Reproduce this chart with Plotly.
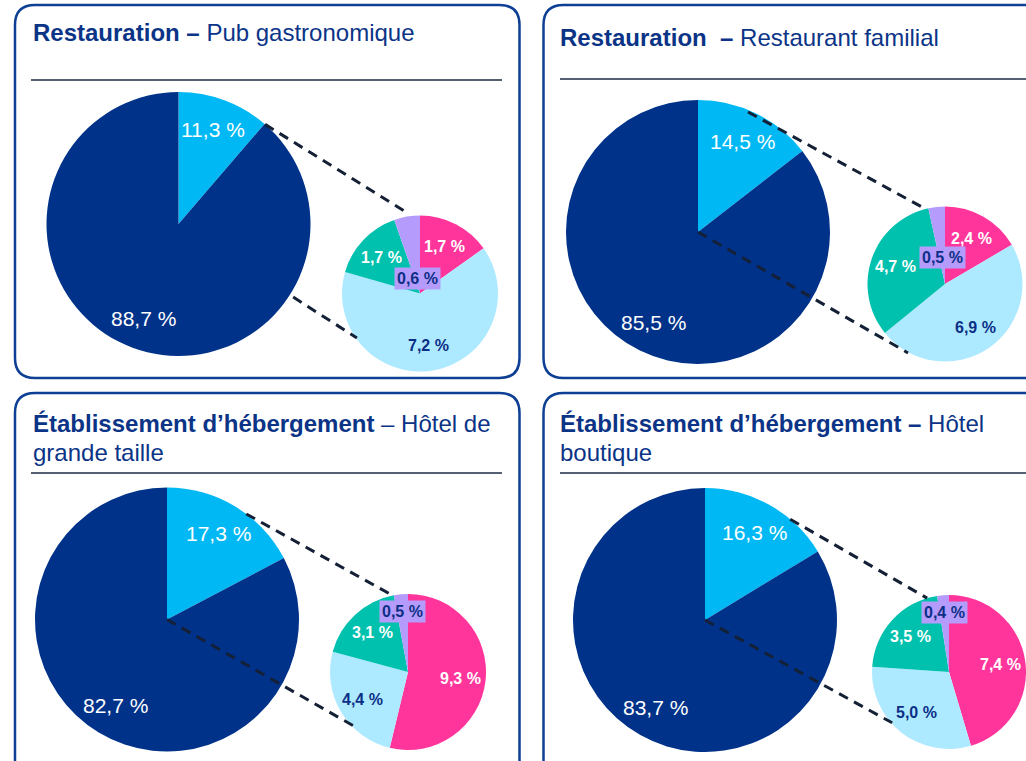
import math

import plotly.graph_objects as go

W, H = 1026, 761

# titles: bold part, regular part, optional second line
TITLES_BOLD = [
    "Restauration –",
    "Restauration\u00a0 –",
    "Établissement d’hébergement",
    "Établissement d’hébergement –",
]
TITLES_REST = [
    " Pub gastronomique",
    " Restaurant familial",
    " – Hôtel de",
    " Hôtel",
]
TITLES_LINE2 = ["", "", "grande taille", "boutique"]

# main pies: highlighted share vs the rest
HIGHLIGHT = [11.3, 14.5, 17.3, 16.3]
OTHER = [88.7, 85.5, 82.7, 83.7]

# breakdown of the highlighted share (small pies, clockwise from 12 o'clock)
DETAIL_PINK = [1.7, 2.4, 9.3, 7.4]
DETAIL_LIGHT = [7.2, 6.9, 4.4, 5.0]
DETAIL_TEAL = [1.7, 4.7, 3.1, 3.5]
DETAIL_LAVENDER = [0.6, 0.5, 0.5, 0.4]

DARK_BLUE = "#003289"
LIGHT_BLUE = "#00b9f4"
PINK = "#ff359b"
PALE = "#aeeaff"
TEAL = "#00c1ad"
LAVENDER = "#b59bfc"
NAVY_TEXT = "#0c2f86"
TITLE_BLUE = "#0b3487"
BORDER = "#0d3f94"
FONT = "Liberation Sans, Arial, sans-serif"

# panel geometry in pixels
PANELS = [
    dict(box=(15, 5, 519.5, 378), title=(31, 33), rule=(31, 502, 80),
         big=(178.5, 224, 132), small=(420, 293.5, 78), lav_r=0.2,
         upper=((41, 1.0), (-8.5, 1.04)), lower=((122.5, 1.03), (234.8, 0.99))),
    dict(box=(543.5, 5, 1045, 378), title=(558, 37), rule=(560, 1030, 79),
         big=(698, 232, 132), small=(945, 284, 77.5), lav_r=0.35,
         upper=((22.6, 0.985), (-16.8, 1.04)), lower=((0, 0.0), (208.2, 1.01))),
    dict(box=(15, 393, 519.5, 790), title=(31, 424), rule=(31, 502, 473),
         big=(167, 619.5, 132), small=(408, 672, 78), lav_r=0.78,
         upper=((36.9, 1.0), (-12, 1.01)), lower=((0, 0.0), (222.5, 0.97))),
    dict(box=(543.5, 393, 1045, 790), title=(558, 424), rule=(560, 1030, 473),
         big=(705, 620, 132), small=(949, 672, 77), lav_r=0.78,
         upper=((40.2, 1.0), (-16.5, 1.0)), lower=((0, 0.0), (228.2, 0.99))),
]
TITLE_LINE_GAP = 28


def px(x):
    return x / W


def py(y):
    return 1 - y / H


def polar(center, ang, ratio):
    cx, cy, r = center
    a = math.radians(ang)
    return cx + ratio * r * math.sin(a), cy - ratio * r * math.cos(a)


def fmt(v):
    return f"{v:.1f}".replace(".", ",") + " %"


def mid_angles(values):
    total = sum(values)
    out, acc = [], 0.0
    for v in values:
        out.append((acc + v / 2) / total * 360)
        acc += v
    return out


def domain(center):
    cx, cy, r = center
    clip = lambda v: min(max(v, 0.0), 1.0)
    return dict(x=[clip(px(cx - r)), clip(px(cx + r))], y=[clip(py(cy + r)), clip(py(cy - r))])


def rounded_box(x0, y0, x1, y1, rad=20):
    pts = [
        f"M {px(x0 + rad)} {py(y0)}",
        f"L {px(x1 - rad)} {py(y0)}",
        f"Q {px(x1)} {py(y0)} {px(x1)} {py(y0 + rad)}",
        f"L {px(x1)} {py(y1 - rad)}",
        f"Q {px(x1)} {py(y1)} {px(x1 - rad)} {py(y1)}",
        f"L {px(x0 + rad)} {py(y1)}",
        f"Q {px(x0)} {py(y1)} {px(x0)} {py(y1 - rad)}",
        f"L {px(x0)} {py(y0 + rad)}",
        f"Q {px(x0)} {py(y0)} {px(x0 + rad)} {py(y0)}",
        "Z",
    ]
    return " ".join(pts)


def label(x, y, text, size, color, **kw):
    ann = dict(xref="paper", yref="paper", x=px(x), y=py(y), xanchor="center", yanchor="middle",
               showarrow=False, text=text, font=dict(family=FONT, size=size, color=color))
    ann.update(kw)
    return ann


fig = go.Figure()
shapes, annotations = [], []

for i, p in enumerate(PANELS):
    main_vals = [HIGHLIGHT[i], OTHER[i]]
    detail_vals = [DETAIL_PINK[i], DETAIL_LIGHT[i], DETAIL_TEAL[i], DETAIL_LAVENDER[i]]

    fig.add_trace(go.Pie(
        values=main_vals, sort=False, direction="clockwise", rotation=0,
        marker=dict(colors=[LIGHT_BLUE, DARK_BLUE], line=dict(width=0)),
        textinfo="none", hoverinfo="skip", showlegend=False, domain=domain(p["big"]),
    ))
    fig.add_trace(go.Pie(
        values=detail_vals, sort=False, direction="clockwise", rotation=0,
        marker=dict(colors=[PINK, PALE, TEAL, LAVENDER], line=dict(width=0)),
        textinfo="none", hoverinfo="skip", showlegend=False, domain=domain(p["small"]),
    ))

    # panel frame, title rule
    shapes.append(dict(type="path", xref="paper", yref="paper", path=rounded_box(*p["box"]),
                       line=dict(color=BORDER, width=2.5)))
    x0, x1, yr = p["rule"]
    shapes.append(dict(type="line", xref="paper", yref="paper", x0=px(x0), x1=px(x1),
                       y0=py(yr), y1=py(yr), line=dict(color="#1c2b45", width=1.5)))

    # connectors between big and small pie
    for (a0, r0), (a1, r1) in (p["upper"], p["lower"]):
        sx, sy = polar(p["big"], a0, r0)
        ex, ey = polar(p["small"], a1, r1)
        shapes.append(dict(type="line", xref="paper", yref="paper", x0=px(sx), y0=py(sy),
                           x1=px(ex), y1=py(ey),
                           line=dict(color="#142036", width=3, dash="10px,7px")))

    # title
    tx, ty = p["title"]
    annotations.append(label(tx, ty, f"<b>{TITLES_BOLD[i]}</b>{TITLES_REST[i]}", 24, TITLE_BLUE,
                             xanchor="left", align="left"))
    if TITLES_LINE2[i]:
        annotations.append(label(tx, ty + TITLE_LINE_GAP, TITLES_LINE2[i], 24, TITLE_BLUE,
                                 xanchor="left", align="left"))

    # big pie labels
    for v, ang in zip(main_vals, mid_angles(main_vals)):
        lx, ly = polar(p["big"], ang, 0.76)
        annotations.append(label(lx, ly, fmt(v), 21, "white"))

    # small pie labels
    colors = ["white", NAVY_TEXT, "white", NAVY_TEXT]
    for j, (v, ang) in enumerate(zip(detail_vals, mid_angles(detail_vals))):
        ratio = p["lav_r"] if j == 3 else 0.68
        lx, ly = polar(p["small"], ang, ratio)
        extra = dict(bgcolor=LAVENDER, borderpad=2) if j == 3 else {}
        annotations.append(label(lx, ly, f"<b>{fmt(v)}</b>", 16, colors[j], **extra))

fig.update_layout(
    width=W, height=H, autosize=False,
    margin=dict(l=0, r=0, t=0, b=0),
    paper_bgcolor="white", plot_bgcolor="white",
    shapes=shapes, annotations=annotations,
    font=dict(family=FONT),
)

fig.write_html("out.html", config={"displayModeBar": False},
               post_script="document.body.style.margin='0';")
